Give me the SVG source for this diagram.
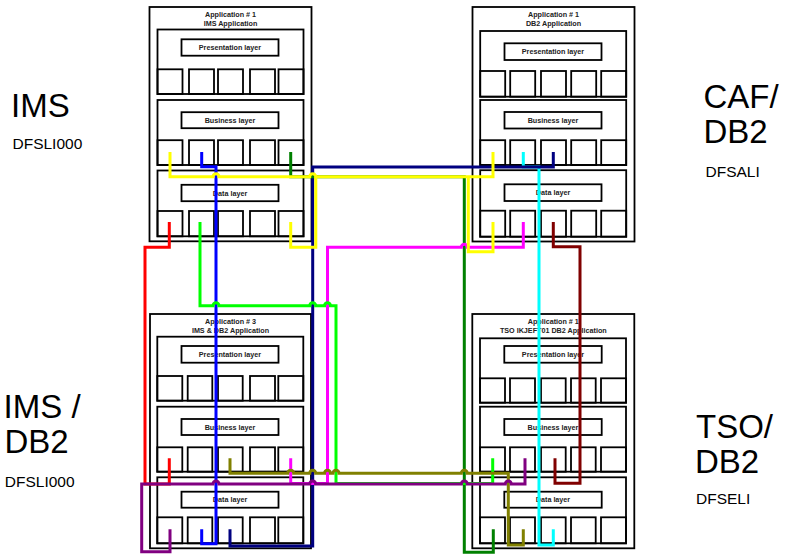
<svg xmlns="http://www.w3.org/2000/svg" width="785" height="554" viewBox="0 0 785 554">
  <style>
    .frame { fill: #fff; stroke: #000; stroke-width: 1.8; }
    .box { fill: none; stroke: #000; stroke-width: 1.8; }
    .title { font-family: "Liberation Sans", Arial, sans-serif; font-weight: bold; font-size: 7.2px; fill: #222; text-anchor: middle; }
    .big { font-family: "Liberation Sans", Arial, sans-serif; font-size: 33px; fill: #000; }
    .small { font-family: "Liberation Sans", Arial, sans-serif; font-size: 15.5px; fill: #000; }
    .wire { fill: none; stroke-width: 3; stroke-linejoin: miter; stroke-linecap: butt; }
  </style>

  <!-- side captions -->
  <g id="captions">
    <text class="big" x="11" y="116.7">IMS</text>
    <text class="small" x="12.5" y="149">DFSLI000</text>
    <text class="big" x="703.5" y="107.7">CAF/</text>
    <text class="big" x="703.5" y="142.7">DB2</text>
    <text class="small" x="705.5" y="177.3">DFSALI</text>
    <text class="big" x="3.6" y="417.7">IMS /</text>
    <text class="big" x="4.5" y="452.7">DB2</text>
    <text class="small" x="4.8" y="487.3">DFSLI000</text>
    <text class="big" x="696" y="437.7">TSO/</text>
    <text class="big" x="695" y="473.3">DB2</text>
    <text class="small" x="696" y="504.3">DFSELI</text>
  </g>

  <!-- Application #1: IMS -->
  <g id="app-ims" transform="translate(149.5,7)">
    <rect class="frame" x="0" y="0" width="162" height="234.3"/>
    <text class="title" x="81" y="10.2">Application # 1</text>
    <text class="title" x="81" y="19.1">IMS Application</text>
    <rect class="box" x="8" y="22.5" width="146" height="64.5"/>
    <rect class="box" x="32" y="32.3" width="97" height="16.4"/>
    <text class="title" x="80.5" y="43.1">Presentation layer</text>
    <rect class="box" x="8" y="62.3" width="25" height="24.7"/>
    <rect class="box" x="39.5" y="62.3" width="25" height="24.7"/>
    <rect class="box" x="68.5" y="62.3" width="25" height="24.7"/>
    <rect class="box" x="100.5" y="62.3" width="25" height="24.7"/>
    <rect class="box" x="129" y="62.3" width="25" height="24.7"/>
    <rect class="box" x="8" y="93" width="146" height="65"/>
    <rect class="box" x="32" y="105.2" width="97" height="16"/>
    <text class="title" x="80.5" y="115.8">Business layer</text>
    <rect class="box" x="8" y="133.2" width="25" height="24.8"/>
    <rect class="box" x="39.5" y="133.2" width="25" height="24.8"/>
    <rect class="box" x="68.5" y="133.2" width="25" height="24.8"/>
    <rect class="box" x="100.5" y="133.2" width="25" height="24.8"/>
    <rect class="box" x="129" y="133.2" width="25" height="24.8"/>
    <rect class="box" x="8" y="163.5" width="146" height="65.8"/>
    <rect class="box" x="32" y="177.8" width="97" height="16.4"/>
    <text class="title" x="80.5" y="188.6">Data layer</text>
    <rect class="box" x="8" y="204" width="25" height="25.3"/>
    <rect class="box" x="39.5" y="204" width="25" height="25.3"/>
    <rect class="box" x="68.5" y="204" width="25" height="25.3"/>
    <rect class="box" x="100.5" y="204" width="25" height="25.3"/>
    <rect class="box" x="129" y="204" width="25" height="25.3"/>
  </g>

  <!-- Application #1: DB2 -->
  <g id="app-db2" transform="translate(472.5,7)">
    <rect class="frame" x="0" y="0" width="162" height="234.5"/>
    <text class="title" x="81" y="10.2">Application # 1</text>
    <text class="title" x="81" y="19.1">DB2 Application</text>
    <rect class="box" x="7.7" y="24" width="146" height="65.7"/>
    <rect class="box" x="32" y="36.3" width="97" height="16.7"/>
    <text class="title" x="80.5" y="47.3">Presentation layer</text>
    <rect class="box" x="7.7" y="64" width="25" height="25.7"/>
    <rect class="box" x="37.7" y="64" width="25" height="25.7"/>
    <rect class="box" x="68.5" y="64" width="25" height="25.7"/>
    <rect class="box" x="98.7" y="64" width="25" height="25.7"/>
    <rect class="box" x="128.7" y="64" width="25" height="25.7"/>
    <rect class="box" x="7.7" y="93" width="146" height="65"/>
    <rect class="box" x="32" y="105" width="97" height="16.5"/>
    <text class="title" x="80.5" y="115.8">Business layer</text>
    <rect class="box" x="7.7" y="133.2" width="25" height="24.8"/>
    <rect class="box" x="37.7" y="133.2" width="25" height="24.8"/>
    <rect class="box" x="68.5" y="133.2" width="25" height="24.8"/>
    <rect class="box" x="98.7" y="133.2" width="25" height="24.8"/>
    <rect class="box" x="128.7" y="133.2" width="25" height="24.8"/>
    <rect class="box" x="7.7" y="163.2" width="146" height="66.5"/>
    <rect class="box" x="32" y="177.3" width="97" height="16.7"/>
    <text class="title" x="80.5" y="188.3">Data layer</text>
    <rect class="box" x="7.7" y="203.7" width="25" height="26"/>
    <rect class="box" x="37.7" y="203.7" width="25" height="26"/>
    <rect class="box" x="68.5" y="203.7" width="25" height="26"/>
    <rect class="box" x="98.7" y="203.7" width="25" height="26"/>
    <rect class="box" x="128.7" y="203.7" width="25" height="26"/>
  </g>

  <!-- Application #3: IMS & DB2 -->
  <g id="app-ims-db2" transform="translate(150,314)">
    <rect class="frame" x="0" y="0" width="161" height="234.3"/>
    <text class="title" x="80.5" y="9.9">Application # 3</text>
    <text class="title" x="80.5" y="18.9">IMS &amp; DB2 Application</text>
    <rect class="box" x="7.3" y="22.7" width="146" height="64"/>
    <rect class="box" x="31.5" y="32" width="97" height="16.7"/>
    <text class="title" x="80" y="43">Presentation layer</text>
    <rect class="box" x="7.3" y="62" width="25" height="24.7"/>
    <rect class="box" x="37.7" y="62" width="24.6" height="24.7"/>
    <rect class="box" x="68" y="62" width="24.7" height="24.7"/>
    <rect class="box" x="100" y="62" width="25" height="24.7"/>
    <rect class="box" x="128.3" y="62" width="25" height="24.7"/>
    <rect class="box" x="7.3" y="92.7" width="146" height="65"/>
    <rect class="box" x="31.5" y="105" width="97" height="16"/>
    <text class="title" x="80" y="115.6">Business layer</text>
    <rect class="box" x="7.3" y="133.3" width="25" height="24.4"/>
    <rect class="box" x="37.7" y="133.3" width="24.6" height="24.4"/>
    <rect class="box" x="68" y="133.3" width="24.7" height="24.4"/>
    <rect class="box" x="100" y="133.3" width="25" height="24.4"/>
    <rect class="box" x="128.3" y="133.3" width="25" height="24.4"/>
    <rect class="box" x="7.3" y="163.3" width="146" height="66"/>
    <rect class="box" x="31.5" y="177.7" width="97" height="16"/>
    <text class="title" x="80" y="188.3">Data layer</text>
    <rect class="box" x="7.3" y="203.3" width="25" height="26"/>
    <rect class="box" x="37.7" y="203.3" width="24.6" height="26"/>
    <rect class="box" x="68" y="203.3" width="24.7" height="26"/>
    <rect class="box" x="100" y="203.3" width="25" height="26"/>
    <rect class="box" x="128.3" y="203.3" width="25" height="26"/>
  </g>

  <!-- Application #1: TSO IKJEFT01 DB2 -->
  <g id="app-tso-db2" transform="translate(472.3,314)">
    <rect class="frame" x="0" y="0" width="162" height="234.3"/>
    <text class="title" x="81" y="9.9">Application # 1</text>
    <text class="title" x="81" y="18.9">TSO IKJEFT01 DB2 Application</text>
    <rect class="box" x="7.7" y="24.3" width="146" height="64.4"/>
    <rect class="box" x="32" y="32" width="97.4" height="16.7"/>
    <text class="title" x="80.7" y="43">Presentation layer</text>
    <rect class="box" x="7.7" y="64.3" width="25" height="24.4"/>
    <rect class="box" x="37.7" y="64.3" width="25" height="24.4"/>
    <rect class="box" x="68.7" y="64.3" width="24.7" height="24.4"/>
    <rect class="box" x="98.7" y="64.3" width="24.7" height="24.4"/>
    <rect class="box" x="128.7" y="64.3" width="25" height="24.4"/>
    <rect class="box" x="7.7" y="92.7" width="146" height="65"/>
    <rect class="box" x="32" y="105" width="97.4" height="16"/>
    <text class="title" x="80.7" y="115.6">Business layer</text>
    <rect class="box" x="7.7" y="133.3" width="25" height="24.4"/>
    <rect class="box" x="37.7" y="133.3" width="25" height="24.4"/>
    <rect class="box" x="68.7" y="133.3" width="24.7" height="24.4"/>
    <rect class="box" x="98.7" y="133.3" width="24.7" height="24.4"/>
    <rect class="box" x="128.7" y="133.3" width="25" height="24.4"/>
    <rect class="box" x="7.7" y="163.3" width="146" height="66"/>
    <rect class="box" x="32" y="177.7" width="97.4" height="16"/>
    <text class="title" x="80.7" y="188.3">Data layer</text>
    <rect class="box" x="7.7" y="203.3" width="25" height="26"/>
    <rect class="box" x="37.7" y="203.3" width="25" height="26"/>
    <rect class="box" x="68.7" y="203.3" width="24.7" height="26"/>
    <rect class="box" x="98.7" y="203.3" width="24.7" height="26"/>
    <rect class="box" x="128.7" y="203.3" width="25" height="26"/>
  </g>

  <!-- connectors: horizontal runs hop over the vertical runs they cross -->
  <g id="connectors" class="wire">
    <path stroke="#00ffff" d="M523.3,152 V167 H539 V545 H553.3 V529.3"/>
    <path stroke="#0000ff" d="M201.7,152 V166.7 H216 V543.7 H201.7 V529.3"/>
    <path stroke="#000080" d="M553.3,152 V167 H312.7 V546 H230 V529.3"/>
    <path stroke="#ff0000" d="M169.3,222 V247.3 H145 V484 H169.3 V458.3"/>
    <path stroke="#008000" d="M290.7,152 V176.7 H464.3 V552.3 H493.3 V529.3"/>
    <path stroke="#800000" d="M553.3,222 V246.7 H580 V483.3 H555 V458.3"/>
    <path stroke="#ff00ff" d="M523.3,222 V247.3 H467.3 a3,3 0 0 0 -6,0 H327.5 V483.5 H290.7 V458.3"/>
    <path stroke="#ffff00" d="M170,152 V176.7 H213 a3,3 0 0 1 6,0 H309.7 a3,3 0 0 1 6,0 H493 V152"/>
    <path stroke="#ffff00" d="M290.7,222 V247.3 H315.8 V176.7"/>
    <path stroke="#ffff00" d="M493,222 V251.7 H468.3 V176.7"/>
    <path stroke="#00ff00" d="M200,222 V305.7 H213 a3,3 0 0 1 6,0 H309.7 a3,3 0 0 1 6,0 H324.5 a3,3 0 0 1 6,0 H336 V483.5 H492.7 V458.3"/>
    <path stroke="#808000" d="M230,458.3 V473.3 H287.7 a3,3 0 0 1 6,0 H309.7 a3,3 0 0 1 6,0 H324.5 a3,3 0 0 1 6,0 H333 a3,3 0 0 1 6,0 H461.3 a3,3 0 0 1 6,0 H508.3 V545 H523.3 V529.3"/>
    <path stroke="#800080" d="M170,529.3 V551.7 H141.7 V484 H213 a3,3 0 0 1 6,0 H309.7 a3,3 0 0 1 6,0 H461.3 a3,3 0 0 1 6,0 H505.3 a3,3 0 0 1 6,0 H525 V458.3"/>
  </g>
</svg>
